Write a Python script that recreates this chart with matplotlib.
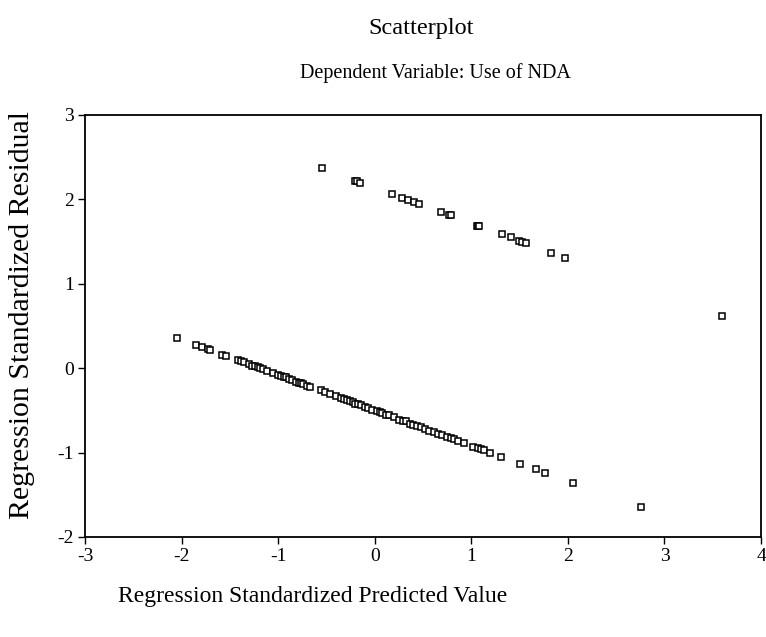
import matplotlib
matplotlib.use("Agg")
import matplotlib.pyplot as plt

# valeurs (prédiction standardisée, résidu standardisé)
lower_x = [-2.05, -1.85, -1.79, -1.73, -1.71, -1.58, -1.54, -1.42, -1.38, -1.35,
           -1.30, -1.27, -1.24, -1.21, -1.19, -1.16, -1.12, -1.05, -1.00, -0.97,
           -0.94, -0.92, -0.89, -0.86, -0.82, -0.78, -0.76, -0.74, -0.70, -0.67,
           -0.56, -0.52, -0.46, -0.40, -0.35, -0.32, -0.29, -0.26, -0.23, -0.20,
           -0.17, -0.14, -0.10, -0.07, -0.03, 0.02, 0.05, 0.08, 0.12, 0.15,
           0.20, 0.25, 0.29, 0.32, 0.37, 0.40, 0.44, 0.48, 0.52, 0.56,
           0.61, 0.66, 0.70, 0.75, 0.79, 0.82, 0.86, 0.92, 1.02, 1.07,
           1.10, 1.13, 1.19, 1.31, 1.50, 1.67, 1.76, 2.05, 2.76]
lower_y = [0.36, 0.28, 0.25, 0.23, 0.22, 0.16, 0.15, 0.10, 0.08, 0.07,
           0.05, 0.03, 0.02, 0.01, 0.00, -0.01, -0.03, -0.06, -0.08, -0.09,
           -0.11, -0.11, -0.13, -0.14, -0.16, -0.17, -0.18, -0.19, -0.21, -0.22,
           -0.26, -0.28, -0.31, -0.33, -0.35, -0.37, -0.38, -0.39, -0.40, -0.42,
           -0.43, -0.44, -0.46, -0.47, -0.49, -0.51, -0.52, -0.53, -0.55, -0.56,
           -0.58, -0.61, -0.62, -0.63, -0.66, -0.67, -0.68, -0.70, -0.72, -0.74,
           -0.76, -0.78, -0.79, -0.82, -0.83, -0.84, -0.86, -0.89, -0.93, -0.95,
           -0.96, -0.97, -1.00, -1.05, -1.13, -1.20, -1.24, -1.36, -1.65]

upper_x = [-0.55, -0.20, -0.18, -0.15, 0.18, 0.28, 0.34, 0.41, 0.46, 0.69,
           0.77, 0.79, 1.06, 1.07, 1.08, 1.32, 1.41, 1.49, 1.53, 1.57,
           1.83, 1.97]
upper_y = [2.37, 2.22, 2.22, 2.20, 2.06, 2.02, 1.99, 1.97, 1.95, 1.85,
           1.82, 1.81, 1.69, 1.69, 1.69, 1.59, 1.55, 1.51, 1.50, 1.48,
           1.37, 1.31]

outlier_x = [3.60]
outlier_y = [0.62]

x_ticks = [-3, -2, -1, 0, 1, 2, 3, 4]
y_ticks = [-2, -1, 0, 1, 2, 3]

plt.rcParams['font.family'] = ['Liberation Serif', 'DejaVu Serif']

fig = plt.figure(figsize=(7.66, 6.37), dpi=100)
ax = fig.add_axes([0.111, 0.157, 0.8825, 0.6625])

for xs, ys in [(lower_x, lower_y), (upper_x, upper_y), (outlier_x, outlier_y)]:
    ax.plot(xs, ys, linestyle='none', marker='s', markersize=5,
            markerfacecolor='white', markeredgecolor='black', markeredgewidth=1.1)

ax.set_xlim(-3, 4)
ax.set_ylim(-2, 3)
ax.set_xticks(x_ticks)
ax.set_yticks(y_ticks)
ax.set_xticklabels([str(v) for v in x_ticks])
ax.set_yticklabels([str(v) for v in y_ticks])
ax.tick_params(direction='out', length=5, width=1, labelsize=14, pad=3)
for s in ax.spines.values():
    s.set_linewidth(1.3)

fig.text(0.55, 0.955, "Scatterplot", ha='center', va='center', fontsize=17.5)
fig.text(0.569, 0.885, "Dependent Variable: Use of NDA", ha='center', va='center', fontsize=14.5)
fig.text(0.029, 0.506, "Regression Standardized Residual", rotation=90,
         ha='center', va='center', fontsize=21.5)
fig.text(0.154, 0.063, "Regression Standardized Predicted Value",
         ha='left', va='center', fontsize=17)

fig.savefig("out.png", dpi=100)
